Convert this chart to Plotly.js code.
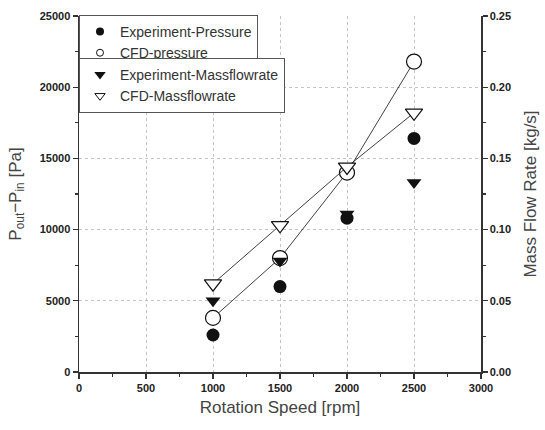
<!DOCTYPE html>
<html>
<head>
<meta charset="utf-8">
<script src="https://cdn.plot.ly/plotly-3.0.1.min.js"></script>
<style>
  html, body { margin: 0; padding: 0; background: #fff; }
  #chart { width: 545px; height: 430px; }
</style>
</head>
<body>
<div id="chart"></div>
<script>
// Rotation speed of each operating point [rpm]
const speed = [1000, 1500, 2000, 2500];

// Pressure rise P_out - P_in [Pa]
const expPressure = [2600, 6000, 10800, 16400];
const cfdPressure = [3800, 8000, 14000, 21800];

// Mass flow rate [kg/s]
const expMassflow = [0.050, 0.078, 0.111, 0.133];
const cfdMassflow = [0.062, 0.103, 0.144, 0.182];

// Legend labels
const labels = ['Experiment-Pressure', 'CFD-pressure', 'Experiment-Massflowrate', 'CFD-Massflowrate'];

const ink = '#111';
const tickFont = { family: 'Liberation Sans, Arial, sans-serif', size: 11, color: '#222', weight: 700 };
const titleFont = { family: 'Liberation Sans, Arial, sans-serif', size: 17, color: '#444' };

const traces = [
  // data traces (legend entries come from the small-marker traces below)
  { x: speed, y: cfdPressure, mode: 'lines+markers', yaxis: 'y', showlegend: false,
    line: { color: ink, width: 0.8 },
    marker: { symbol: 'circle', size: 15, color: '#fff', line: { color: ink, width: 1.2 } } },
  { x: speed, y: cfdMassflow, mode: 'lines+markers', yaxis: 'y2', showlegend: false,
    line: { color: ink, width: 0.8 },
    marker: { symbol: 'triangle-down', size: 15, color: '#fff', line: { color: ink, width: 1.2 } } },
  { x: speed, y: expPressure, mode: 'markers', yaxis: 'y', showlegend: false,
    marker: { symbol: 'circle', size: 13, color: ink } },
  { x: speed, y: expMassflow, mode: 'markers', yaxis: 'y2', showlegend: false,
    marker: { symbol: 'triangle-down', size: 13, color: ink } },

  // legend entries
  { x: [null], y: [null], mode: 'markers', name: labels[0], legend: 'legend',
    marker: { symbol: 'circle', size: 8, color: ink } },
  { x: [null], y: [null], mode: 'markers', name: labels[1], legend: 'legend',
    marker: { symbol: 'circle-open', size: 7, color: ink, line: { width: 1 } } },
  { x: [null], y: [null], mode: 'markers', name: labels[2], legend: 'legend2',
    marker: { symbol: 'triangle-down', size: 10, color: ink } },
  { x: [null], y: [null], mode: 'markers', name: labels[3], legend: 'legend2',
    marker: { symbol: 'triangle-down-open', size: 9, color: ink, line: { width: 1 } } }
];

const legendBase = {
  xanchor: 'left', yanchor: 'top',
  bgcolor: '#fff', bordercolor: '#555', borderwidth: 1,
  font: { family: 'Liberation Sans, Arial, sans-serif', size: 14, color: '#333' },
  tracegroupgap: 0, itemwidth: 30
};

const layout = {
  width: 545, height: 430,
  margin: { l: 79, r: 64, t: 16, b: 58 },
  paper_bgcolor: '#fff', plot_bgcolor: '#fff',
  xaxis: {
    range: [0, 3000], tickvals: [0, 500, 1000, 1500, 2000, 2500, 3000], tickformat: 'd',
    ticks: 'outside', ticklen: 5, tickwidth: 1.2, tickcolor: '#333',
    showline: true, linecolor: '#333', linewidth: 1.5,
    showgrid: true, gridcolor: '#c4c4c4', griddash: 'dot', gridwidth: 1,
    zeroline: false, tickfont: tickFont,
    minor: { dtick: 250, ticks: 'outside', ticklen: 3, tickcolor: '#333', showgrid: false },
    title: { text: 'Rotation Speed [rpm]', font: titleFont, standoff: 8 }
  },
  yaxis: {
    range: [0, 25000], tickvals: [0, 5000, 10000, 15000, 20000, 25000], tickformat: 'd',
    ticks: 'outside', ticklen: 5, tickwidth: 1.2, tickcolor: '#333',
    showline: true, linecolor: '#333', linewidth: 1.5,
    showgrid: true, gridcolor: '#c4c4c4', griddash: 'dot', gridwidth: 1,
    zeroline: false, tickfont: tickFont,
    minor: { dtick: 2500, ticks: 'outside', ticklen: 3, tickcolor: '#333', showgrid: false },
    title: { text: 'P<sub>out</sub>−P<sub>in</sub> [Pa]', font: titleFont, standoff: 14 }
  },
  yaxis2: {
    overlaying: 'y', side: 'right',
    range: [0, 0.25], tickvals: [0, 0.05, 0.10, 0.15, 0.20, 0.25], tickformat: '.2f',
    ticks: 'outside', ticklen: 5, tickwidth: 1.2, tickcolor: '#333',
    showline: true, linecolor: '#333', linewidth: 1.5,
    showgrid: false, zeroline: false, tickfont: tickFont,
    minor: { dtick: 0.025, ticks: 'outside', ticklen: 3, tickcolor: '#333', showgrid: false },
    title: { text: 'Mass Flow Rate [kg/s]', font: titleFont, standoff: 14 }
  },
  legend: Object.assign({}, legendBase, { x: 0, y: 1.003 }),
  legend2: Object.assign({}, legendBase, { x: 0, y: 0.882 }),
  showlegend: true
};

Plotly.newPlot('chart', traces, layout, { displayModeBar: false, staticPlot: true });
</script>
</body>
</html>
